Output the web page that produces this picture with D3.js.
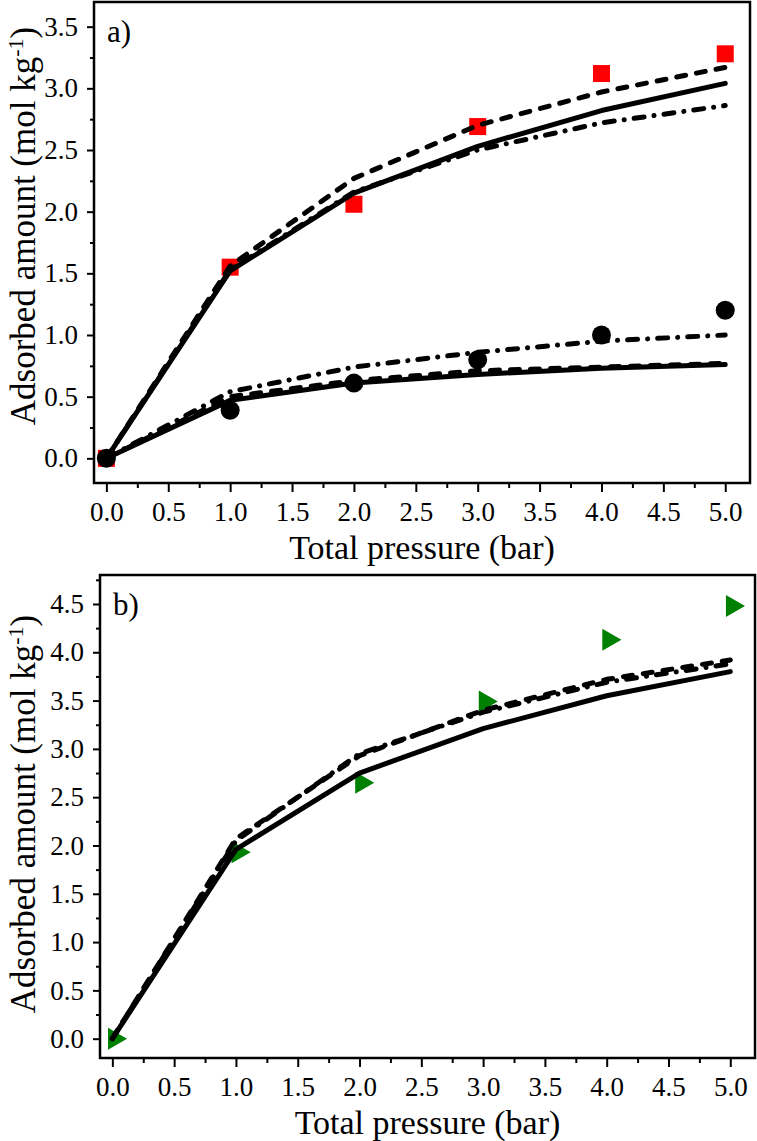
<!DOCTYPE html>
<html>
<head>
<meta charset="utf-8">
<script src="https://cdn.jsdelivr.net/npm/d3@7"></script>
<style>
  html, body { margin: 0; padding: 0; background: #fff; }
  svg { display: block; }
  text { font-family: "Liberation Serif", "Times New Roman", serif; fill: #000; }
</style>
</head>
<body>
<svg id="chart" width="757" height="1141"></svg>
<script>
// ---------- data ----------
const pressure = [0, 1, 2, 3, 4, 5];
const xTickValues = [0, 0.5, 1, 1.5, 2, 2.5, 3, 3.5, 4, 4.5, 5];

// panel a
const aSquares = [0, 1.55, 2.06, 2.69, 3.12, 3.28];
const aSquaresSolid = [0, 1.52, 2.15, 2.53, 2.82, 3.04];
const aSquaresDash = [0, 1.56, 2.27, 2.70, 2.97, 3.17];
const aSquaresDashDot = [0, 1.53, 2.16, 2.50, 2.72, 2.86];
const aCircles = [0, 0.39, 0.61, 0.80, 1.00, 1.20];
const aCirclesSolid = [0, 0.47, 0.61, 0.68, 0.73, 0.76];
const aCirclesDash = [0, 0.50, 0.63, 0.71, 0.74, 0.77];
const aCirclesDashDot = [0, 0.54, 0.74, 0.86, 0.95, 1.00];
const aYTicks = [0, 0.5, 1, 1.5, 2, 2.5, 3, 3.5];

// panel b
const bTriangles = [0, 1.93, 2.65, 3.49, 4.13, 4.48];
const bSolid = [0, 1.96, 2.75, 3.21, 3.55, 3.80];
const bDash = [0, 2.07, 2.93, 3.40, 3.72, 3.92];
const bDashDot = [0, 2.05, 2.95, 3.38, 3.69, 3.88];
const bYTicks = [0, 0.5, 1, 1.5, 2, 2.5, 3, 3.5, 4, 4.5];

// ---------- drawing ----------
const svg = d3.select("#chart");
const fmt = d3.format(".1f");
const DASH = "9,11";
const DASHDOT = "10,10,0.1,10";

function panel(opts) {
  const { left, right, top, bottom, xDomain, yDomain, yTicks, label, titleCY } = opts;
  const g = svg.append("g");
  const x = d3.scaleLinear().domain(xDomain).range([left, right]);
  const y = d3.scaleLinear().domain(yDomain).range([bottom, top]);

  const minorX = d3.range(0, 5.01, 0.25).filter(v => Math.abs(v * 2 - Math.round(v * 2)) > 1e-6);
  const minorY = d3.range(0, yTicks[yTicks.length - 1] + 0.26, 0.25)
    .filter(v => Math.abs(v * 2 - Math.round(v * 2)) > 1e-6 && y(v) > top);

  // x axis
  g.append("g").attr("transform", `translate(0,${bottom})`)
    .call(d3.axisBottom(x).tickValues(xTickValues).tickFormat(fmt).tickSize(9).tickPadding(10));
  g.append("g").attr("transform", `translate(0,${bottom})`)
    .call(d3.axisBottom(x).tickValues(minorX).tickFormat("").tickSize(5));
  // y axis
  g.append("g").attr("transform", `translate(${left},0)`)
    .call(d3.axisLeft(y).tickValues(yTicks).tickFormat(fmt).tickSize(7).tickPadding(9));
  g.append("g").attr("transform", `translate(${left},0)`)
    .call(d3.axisLeft(y).tickValues(minorY).tickFormat("").tickSize(4));

  g.selectAll(".domain").remove();
  g.selectAll(".tick line").attr("stroke", "#000").attr("stroke-width", 2);
  g.selectAll(".tick text").attr("font-size", 27).attr("font-family", "Liberation Serif");

  // frame
  g.append("rect").attr("x", left).attr("y", top)
    .attr("width", right - left).attr("height", bottom - top)
    .attr("fill", "none").attr("stroke", "#000").attr("stroke-width", 2.5);

  // x title
  g.append("text").attr("x", (left + right) / 2).attr("y", bottom + 76)
    .attr("text-anchor", "middle").attr("font-size", 34).text("Total pressure (bar)");

  // y title
  const yt = g.append("text")
    .attr("transform", `translate(35,${titleCY}) rotate(-90)`)
    .attr("text-anchor", "middle").attr("font-size", 35);
  yt.append("tspan").text("Adsorbed amount (mol kg");
  yt.append("tspan").attr("font-size", 22).attr("dy", -12).text("-1");
  yt.append("tspan").attr("dy", 12).text(")");

  // panel label
  g.append("text").attr("x", left + 13).attr("y", top + 40)
    .attr("font-size", 31).text(label);

  return { g, x, y };
}

function drawLine(p, values, dash) {
  const line = d3.line().x((d, i) => p.x(pressure[i])).y(d => p.y(d));
  p.g.append("path").datum(values)
    .attr("d", line)
    .attr("fill", "none").attr("stroke", "#000").attr("stroke-width", 5)
    .attr("stroke-linecap", "round").attr("stroke-linejoin", "round")
    .attr("stroke-dasharray", dash || null);
}

// ----- panel a -----
const pa = panel({
  left: 94, right: 750, top: 2, bottom: 483,
  xDomain: [-0.1, 5.2], yDomain: [-0.2, 3.7], yTicks: aYTicks,
  label: "a)", titleCY: 226
});
pa.g.selectAll(".sq").data(aSquares).enter().append("rect")
  .attr("x", (d, i) => pa.x(pressure[i]) - 8.5).attr("y", d => pa.y(d) - 8.5)
  .attr("width", 17).attr("height", 17).attr("fill", "#ff0000");
pa.g.selectAll(".ci").data(aCircles).enter().append("circle")
  .attr("cx", (d, i) => pa.x(pressure[i])).attr("cy", d => pa.y(d))
  .attr("r", 9.5).attr("fill", "#000");
drawLine(pa, aSquaresSolid);
drawLine(pa, aSquaresDash, DASH);
drawLine(pa, aSquaresDashDot, DASHDOT);
drawLine(pa, aCirclesSolid);
drawLine(pa, aCirclesDash, DASH);
drawLine(pa, aCirclesDashDot, DASHDOT);

// ----- panel b -----
const pb = panel({
  left: 100, right: 755, top: 575, bottom: 1058,
  xDomain: [-0.1, 5.2], yDomain: [-0.2, 4.8], yTicks: bYTicks,
  label: "b)", titleCY: 814
});
const tri = d3.symbol().type(d3.symbolTriangle).size(210);
pb.g.selectAll(".tri").data(bTriangles).enter().append("path")
  .attr("d", tri)
  .attr("transform", (d, i) => `translate(${pb.x(pressure[i]) + 2},${pb.y(d)}) rotate(90)`)
  .attr("fill", "#008000");
drawLine(pb, bSolid);
drawLine(pb, bDash, DASH);
drawLine(pb, bDashDot, DASHDOT);
</script>
</body>
</html>
